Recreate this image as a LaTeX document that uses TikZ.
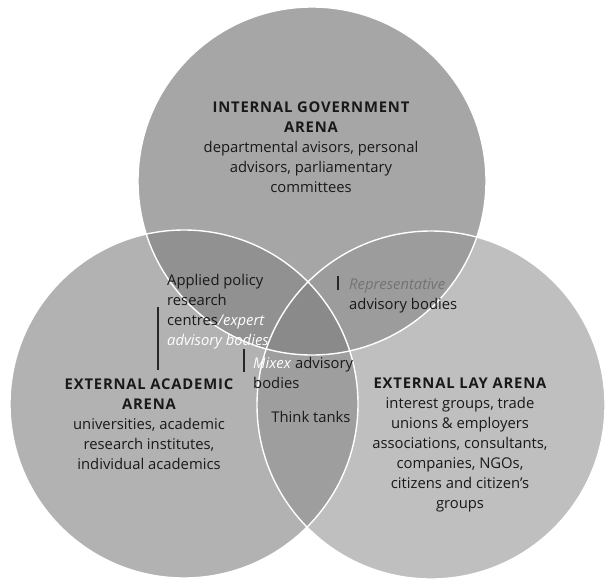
\documentclass[tikz,border=0pt]{standalone}
\usepackage{fontspec}
\setmainfont{Open Sans}
\newfontfamily\headfont{Open Sans}[LetterSpace=5.5]
\definecolor{cT}{gray}{0.65}
\definecolor{cL}{gray}{0.70}
\definecolor{cR}{gray}{0.75}
\definecolor{cTL}{gray}{0.57}
\definecolor{cTR}{gray}{0.61}
\definecolor{cLR}{gray}{0.62}
\definecolor{cTLR}{gray}{0.54}
\definecolor{repgrey}{gray}{0.45}
\newcommand{\hd}[1]{{\headfont\bfseries #1}}
\begin{document}
\begin{tikzpicture}[x=1pt,y=-1pt,
  txt/.style={inner sep=0pt, font=\fontsize{14.8}{20}\selectfont, text=black!90},
  bar/.style={draw=black!85, line width=1.3pt},
  rim/.style={draw=white, line width=1.4pt}]
\useasboundingbox (0,0) rectangle (605,581);
\coordinate (T) at (312,181);
\coordinate (L) at (184,404);
\coordinate (Rc) at (431,405);
\fill[cT] (T) circle (174pt);
\fill[cL] (L) circle (174pt);
\fill[cR] (Rc) circle (174pt);
\begin{scope}
  \clip (T) circle (174pt);
  \fill[cTL] (L) circle (174pt);
  \fill[cTR] (Rc) circle (174pt);
\end{scope}
\begin{scope}
  \clip (L) circle (174pt);
  \fill[cLR] (Rc) circle (174pt);
\end{scope}
\begin{scope}
  \clip (T) circle (174pt);
  \clip (L) circle (174pt);
  \fill[cTLR] (Rc) circle (174pt);
\end{scope}
\draw[rim] (T) circle (174pt);
\draw[rim] (L) circle (174pt);
\draw[rim] (Rc) circle (174pt);

\node[txt, align=center] (gov) at (311,147) {\hd{INTERNAL GOVERNMENT}\\\hd{ARENA}\\departmental avisors, personal\\advisors, parliamentary\\committees};
\node[txt, align=center] (acad) at (149,424) {\hd{EXTERNAL ACADEMIC}\\\hd{ARENA}\\universities, academic\\research institutes,\\individual academics};
\node[txt, align=center] (lay) at (460,445) {\hd{EXTERNAL LAY ARENA}\\interest groups, trade\\unions \& employers\\associations, consultants,\\companies, NGOs,\\citizens and citizen’s\\groups};
\node[txt, align=left, anchor=west] (applied) at (167,312) {Applied policy\\research\\centres\textcolor{white}{\textit{/expert}}\\\textcolor{white}{\textit{advisory bodies}}};
\node[txt, align=left, anchor=west] (rep) at (349,296) {\textcolor{repgrey}{\textit{Representative}}\\advisory bodies};
\node[txt, align=left, anchor=west] (mixed) at (253,373) {\textcolor{white}{\textit{Mixex}} advisory\\bodies};
\node[txt] (think) at (311,417) {Think tanks};

\coordinate (b1a) at (158,307); \coordinate (b1b) at (158,370);
\coordinate (b2a) at (338,276); \coordinate (b2b) at (338,290);
\coordinate (b3a) at (244,349); \coordinate (b3b) at (244,372);
\draw[bar] (b1a) -- (b1b);
\draw[bar] (b2a) -- (b2b);
\draw[bar] (b3a) -- (b3b);
\end{tikzpicture}
\end{document}
